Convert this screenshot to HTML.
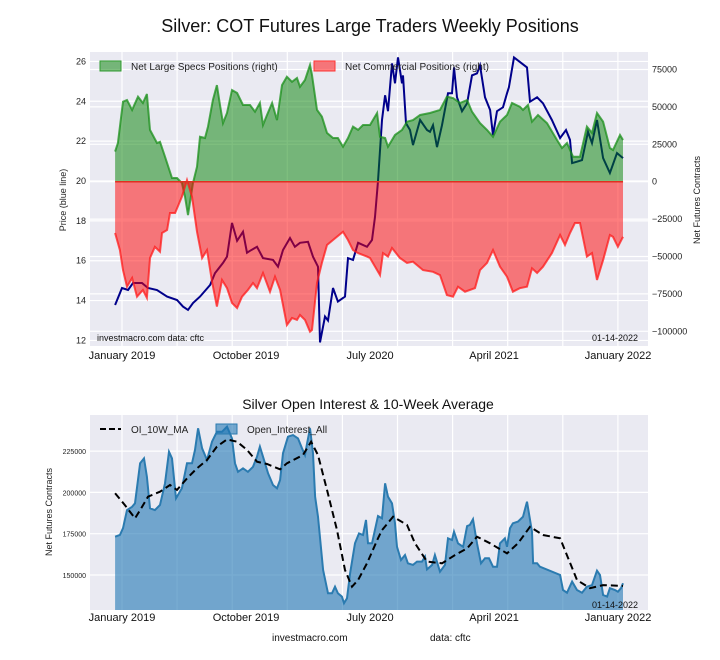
<!DOCTYPE html>
<html><head><meta charset="utf-8"><style>
body{margin:0;background:#fff;}
svg{display:block;font-family:"Liberation Sans",Arial,sans-serif;}
</style></head><body>
<svg id="s" width="720" height="660" viewBox="0 0 720 660" xmlns="http://www.w3.org/2000/svg">
<rect x="0" y="0" width="720" height="660" fill="#fff"/>
<text x="370" y="32" font-size="18" text-anchor="middle" fill="#111">Silver: COT Futures Large Traders Weekly Positions</text>
<rect x="90" y="52" width="558" height="294" fill="#eaeaf2"/>
<g id="g1grid"></g><g id="g1marks"></g><g id="g1ax"></g>
<text x="368" y="409" font-size="14" text-anchor="middle" fill="#111">Silver Open Interest &amp; 10-Week Average</text>
<rect x="90" y="415" width="558" height="195" fill="#eaeaf2"/>
<g id="g2grid"></g><g id="g2marks"></g><g id="g2ax"></g>
<text x="66" y="200" font-size="9" text-anchor="middle" transform="rotate(-90 66 200)" fill="#222">Price (blue line)</text>
<text x="700" y="200" font-size="9" text-anchor="middle" transform="rotate(-90 700 200)" fill="#222">Net Futures Contracts</text>
<text x="52" y="512" font-size="9" text-anchor="middle" transform="rotate(-90 52 512)" fill="#222">Net Futures Contracts</text>
<text x="97" y="341" font-size="9" fill="#111">investmacro.com   data: cftc</text>
<text x="592" y="341" font-size="9" fill="#111">01-14-2022</text>
<text x="592" y="608" font-size="9" fill="#111">01-14-2022</text>
<text x="272" y="641" font-size="10" fill="#111">investmacro.com</text>
<text x="430" y="641" font-size="10" fill="#111">data: cftc</text>
<g>
<rect x="100" y="61" width="21" height="10" fill="rgba(0,128,0,0.5)" stroke="#2e9a2e"/>
<text x="131" y="70" font-size="10" fill="#222">Net Large Specs Positions (right)</text>
<rect x="314" y="61" width="21" height="10" fill="rgba(255,0,0,0.5)" stroke="#ff3333"/>
<text x="345" y="70" font-size="10" fill="#222">Net Commercial Positions (right)</text>
</g>
<g>
<line x1="100" y1="429" x2="121" y2="429" stroke="#000" stroke-width="2" stroke-dasharray="6,3"/>
<text x="131" y="433" font-size="10" fill="#222">OI_10W_MA</text>
<rect x="216" y="424" width="21" height="10" fill="rgba(31,119,180,0.6)" stroke="#2b7bb0"/>
<text x="247" y="433" font-size="10" fill="#222">Open_Interest_All</text>
</g>
</svg>
<script>
// months since Jan 2019
var specM = [-0.5,-0.3,0.07,0.36,0.73,1.16,1.52,1.81,2.03,2.54,2.76,3.12,3.63,3.99,4.35,4.57,4.79,5.15,5.44,5.66,6.02,6.24,6.6,6.89,7.11,7.33,7.62,7.98,8.35,8.78,9.29,9.65,10.01,10.23,10.52,10.89,11.25,11.61,11.97,12.34,12.7,12.92,13.28,13.64,13.79,14.15,14.51,14.88,15.31,15.67,16.04,16.4,16.76,17.13,17.49,18.0,18.51,18.72,19.09,19.3,19.81,20.32,20.68,21.12,21.63,22.35,23.08,23.58,24.02,24.53,25.04,25.4,25.98,26.49,26.92,27.43,27.94,28.3,28.88,29.1,29.46,29.75,30.19,30.84,31.57,31.93,32.29,32.73,33.24,33.74,34.11,34.47,34.91,35.41,35.63,36.14,36.36];
var specV = [20.1,25.9,53.5,54.6,48,56.8,52.6,58.6,34.6,25.9,26.7,16.7,2.5,2.5,-0.9,-10,-22.3,-0.9,10,30,29.2,36.8,54.6,64.6,51.3,39.2,45.9,61.3,59.3,51.3,51.3,46.8,52.6,37.9,44.6,52.6,41.2,64.6,70.2,66.8,69.3,63.5,68,78,71.3,48,43.5,32.6,29.2,29.2,23.4,29.2,36.8,34.6,37.9,37.9,45.9,30,29.2,23.4,31.2,34.6,40.1,41.2,44.6,45.9,48,56.8,55.9,52.6,54.6,46.8,39.2,34.6,30,40.1,44.6,52.6,50.1,48,51.3,40.1,44.6,39.2,27.9,22.5,25.9,16.7,16.7,36.8,32.6,45.9,40.1,22.5,21.2,31.2,27.9];
var commM = [-0.5,-0.15,0.07,0.36,0.73,1.09,1.52,1.81,2.03,2.39,2.76,2.9,3.27,3.48,3.85,4.35,4.72,5.08,5.44,5.81,6.17,6.53,6.89,7.26,7.62,7.98,8.35,8.71,9.14,9.51,9.8,10.23,10.74,11.1,11.47,11.97,12.34,12.7,12.92,13.28,13.64,13.79,14.15,14.51,14.88,15.31,16.04,16.4,16.76,17.13,17.78,18.0,18.51,18.72,18.94,19.3,19.59,20.17,20.68,21.12,21.84,22.57,23.08,23.58,24.02,24.38,24.89,25.62,25.98,26.49,26.92,27.43,27.94,28.37,28.88,29.39,29.75,30.12,30.55,31.2,31.79,32.15,32.51,32.87,33.24,33.74,34.11,34.47,34.91,35.41,35.63,35.99,36.36];
var commV = [-34.3,-45.7,-59.1,-70.2,-64.4,-76.9,-72.4,-77.7,-51,-43.5,-46.8,-34.3,-32.3,-20.9,-20.9,-10,1.1,-10,-33.4,-51,-45.7,-66.8,-83.5,-65.7,-71.1,-81.1,-84.4,-76.9,-72.4,-67.7,-71.1,-61,-73.5,-63.5,-72.4,-95.8,-91.1,-92.4,-89.1,-92.4,-100.3,-99.1,-67.7,-54.3,-42.3,-39,-33.4,-39,-45.7,-47.7,-50.1,-51,-59.1,-62.4,-47.7,-50.1,-44.3,-51,-54.3,-53.5,-59.1,-60.2,-62.4,-75.8,-76.9,-70.2,-73.5,-71.1,-59.1,-54.3,-45.7,-56.8,-63.5,-73.5,-71.1,-70.2,-57.9,-61,-56.8,-47.7,-35.6,-42.3,-34.3,-27.6,-27.6,-50.1,-47.7,-65.7,-52.4,-35.6,-36.8,-43.5,-36.8];
var priceM = [-0.5,0,0.44,0.8,1.45,1.89,2.54,3.27,3.99,4.43,4.79,5.15,5.66,6.39,6.75,7.33,7.62,7.98,8.35,8.78,9.07,9.29,9.8,10.23,10.96,11.32,11.68,12.19,12.55,12.92,13.5,13.86,14.22,14.37,14.73,14.95,15.31,15.67,16.18,16.4,16.76,17.13,17.78,18.14,18.36,18.58,18.87,19.09,19.3,19.59,19.81,20.03,20.32,20.39,20.61,20.9,21.12,21.63,22.13,22.35,22.57,22.86,23.22,23.66,23.95,24.09,24.31,24.67,25.04,25.4,25.76,25.98,26.34,26.71,26.92,27.21,27.65,27.94,28.08,28.45,29.39,29.61,30.12,30.55,31.2,31.79,32.22,32.51,32.66,33.02,33.38,33.82,34.11,34.47,34.91,35.41,35.92,36.36];
var priceV = [13.78,14.63,14.53,14.88,14.88,14.63,14.53,14.2,14.03,13.7,13.53,13.88,14.2,14.78,15.38,15.89,16.2,17.9,17.0,17.45,16.4,16.5,16.7,16.13,16.04,15.7,16.54,17.14,16.7,16.9,16.95,16.2,15.7,11.9,13.2,13.0,14.63,13.95,14.2,16.13,16.04,16.9,16.7,17.04,18.2,20,23.06,24.3,23.5,25.9,24.9,26.2,24.9,25.3,22.9,22.56,21.8,23.06,22.56,22.47,22.8,21.7,22.8,24.4,24.4,25.7,24.2,23.5,23.9,25.3,25.4,25.8,24.2,23.56,22.3,23.5,23.7,24.4,24.7,26.2,25.7,23.98,24.2,23.9,23.06,22.16,22.56,22.06,20.9,20.97,21.05,22.47,21.9,23.06,21.15,20.4,21.4,21.15];
var oiM = [-0.5,-0.15,0.07,0.36,0.73,0.94,1.31,1.6,1.81,2.03,2.39,2.76,3.12,3.41,3.63,3.92,4.35,4.72,5.08,5.3,5.52,5.81,6.17,6.53,6.89,7.26,7.62,7.98,8.2,8.42,8.78,9.14,9.51,9.8,10.01,10.23,10.6,10.96,11.25,11.47,11.68,12.05,12.41,12.77,13.06,13.28,13.43,13.64,13.86,14.01,14.22,14.59,14.95,15.24,15.46,15.67,15.96,16.11,16.33,16.55,16.91,17.2,17.49,17.71,17.85,18.14,18.58,18.87,19.09,19.3,19.59,19.81,19.96,20.25,20.54,20.75,21.12,21.41,21.77,21.99,22.13,22.5,22.71,23.08,23.44,23.66,23.95,24.09,24.38,24.75,25.04,25.25,25.47,25.76,26.05,26.34,26.63,26.92,27.21,27.43,27.79,27.94,28.16,28.37,28.74,29.1,29.39,29.75,29.83,30.12,30.33,31.79,32.0,32.29,32.66,33.02,33.38,33.74,34.11,34.47,34.69,34.91,35.2,35.41,35.78,35.99,36.21,36.36];
var oiV = [173.2,174.2,178.3,189.3,191.3,193.4,217.6,220.6,209.5,190.4,189.3,192.4,205.5,224.6,220.6,196.4,202.5,217.6,217.6,225.7,238.8,226.7,219.6,230.7,236.7,236.7,239.8,232.7,217.6,212.5,214.6,212.5,215.5,221.6,227.7,221.6,211.5,204.5,202.5,207.5,223.7,233.7,234.7,232.7,226.7,222.6,229.7,238.8,223.7,197.4,185.3,153,138.9,138.9,142.9,138.9,136.9,132.9,135.9,151,169.2,175.2,174.2,183.3,169.2,169.2,185.7,184.3,205.5,197.4,193.4,181.3,167.1,159.1,162.1,157.1,156.1,158.1,158.1,161.1,153.4,156.1,162.1,152,156.1,172.2,171.2,176.2,169.2,167.1,179.6,180.3,183.7,169.2,157.1,160.1,160.1,155,155,169.2,172.2,167.1,178.3,181.3,182.3,185.3,194.4,176.2,157.1,157.1,155,150,140.9,139.3,146,140.9,139.3,142.9,143.9,152.6,150,137.9,136.9,142,140.9,139.9,142,145];
var maM = [-0.5,0.2,0.94,1.31,1.89,2.76,3.48,3.99,4.72,5.44,6.17,6.89,7.62,8.35,9.07,9.8,10.52,11.47,11.97,13.13,13.72,14.22,14.88,15.6,16.18,16.69,17.13,17.78,18.58,18.87,19.67,20.68,21.26,22.13,23.22,24.17,25.04,25.76,26.71,27.94,28.74,29.61,30.55,31.79,33.02,33.96,34.91,36.36];
var maV = [199.5,192.4,184.3,189.3,197.4,200.4,204.5,201.5,208.5,214.6,219.6,227.7,232.1,230.7,225.7,218.6,217.2,214,217.6,222.6,230.7,222.6,201.5,177.2,153,142.9,147,157.1,172.2,177.2,185.3,180.3,169.2,158.1,157.1,162.1,166.1,173.2,169.2,163.1,169.2,179.2,174.2,172.2,147,142,143.9,143.4];
var xTickM = [0,9,18,27,36];
var xTickLabels = ["January 2019","October 2019","July 2020","April 2021","January 2022"];
var priceTicks = [12,14,16,18,20,22,24,26];
var netTicks = [75000,50000,25000,0,-25000,-50000,-75000,-100000];
var oiTicks = [150000,175000,200000,225000];

var NS="http://www.w3.org/2000/svg";
function xS(m){return 122+m*13.78;}
function yP(p){return 181+(20-p)*19.93;}
function yN(v){return 181.7-v/25000*37.4;}
function yO(v){return 575-(v-150000)/25000*41.3;}
function mk(tag,attrs,parent){var e=document.createElementNS(NS,tag);for(var k in attrs)e.setAttribute(k,attrs[k]);document.getElementById(parent).appendChild(e);return e;}
function pts(M,V,fy,scale){var s=[];for(var i=0;i<M.length;i++)s.push(xS(M[i]).toFixed(1)+","+fy(V[i]*scale).toFixed(1));return s;}

// grids
var g1v=[], g;
for(var k=0;k<10;k++){
  g=mk('line',{x1:122+k*55.1,x2:122+k*55.1,y1:52,y2:346,stroke:'#fff','stroke-width':1.2},'g1grid');
  
  g=mk('line',{x1:122+k*55.1,x2:122+k*55.1,y1:415,y2:610,stroke:'#fff','stroke-width':1.2},'g2grid');
  
}
priceTicks.forEach(function(p){
  var y=yP(p);
  var l=mk('line',{x1:90,x2:648,y1:y,y2:y,stroke:'#fff','stroke-width':1.2},'g1grid');
  
  var t=mk('text',{x:86,y:y+3,'font-size':9,'text-anchor':'end',fill:'#222'},'g1ax');
  t.textContent=p;
});
netTicks.forEach(function(v){
  var y=yN(v);
  var l=mk('line',{x1:90,x2:648,y1:y,y2:y,stroke:'#fff','stroke-width':1.2},'g1grid');
  
  var t=mk('text',{x:652,y:y+3,'font-size':9,fill:'#222'},'g1ax');
  t.textContent=(v<0?'\u2212'+(-v):v);
});
oiTicks.forEach(function(v){
  var y=yO(v);
  var l=mk('line',{x1:90,x2:648,y1:y,y2:y,stroke:'#fff','stroke-width':1.2},'g2grid');
  
  var t=mk('text',{x:86,y:y+3,'font-size':7,'text-anchor':'end',fill:'#222'},'g2ax');
  t.textContent=v;
});
xTickM.forEach(function(m,i){
  var t=mk('text',{x:xS(m),y:359,'font-size':11,'text-anchor':'middle',fill:'#111'},'g1ax');
  t.textContent=xTickLabels[i];
  t=mk('text',{x:xS(m),y:621,'font-size':11,'text-anchor':'middle',fill:'#111'},'g2ax');
  t.textContent=xTickLabels[i];
});

// top chart marks: price line under fills
var pl=mk('polyline',{points:pts(priceM,priceV,yP,1).join(' '),fill:'none',stroke:'#00008b','stroke-width':2},'g1marks');

function area(M,V,fill,stroke,name){
  var p=pts(M,V,yN,1000);
  var z=yN(0);
  var d='M'+xS(M[0]).toFixed(1)+','+z+' L'+p.join(' L')+' L'+xS(M[M.length-1]).toFixed(1)+','+z+' Z';
  var a=mk('path',{d:d,fill:fill,stroke:'none'},'g1marks');
  
  var l=mk('polyline',{points:p.join(' '),fill:'none',stroke:stroke,'stroke-width':2,'stroke-opacity':0.75},'g1marks');
  
}
area(specM,specV,'rgba(0,128,0,0.5)','#1a8f1a','specs');
area(commM,commV,'rgba(255,0,0,0.5)','#ff1a1a','commercial');
var zl=mk('line',{x1:xS(specM[0]),x2:xS(specM[specM.length-1]),y1:yN(0),y2:yN(0),stroke:'#e03020','stroke-width':1.5},'g1marks');


// bottom chart
var op=pts(oiM,oiV,yO,1000);
var od='M'+xS(oiM[0]).toFixed(1)+',610 L'+op.join(' L')+' L'+xS(oiM[oiM.length-1]).toFixed(1)+',610 Z';
var oa=mk('path',{d:od,fill:'rgba(31,119,180,0.6)',stroke:'none'},'g2marks');

var ol=mk('polyline',{points:op.join(' '),fill:'none',stroke:'#2b7bb0','stroke-width':2},'g2marks');

var ml=mk('polyline',{points:pts(maM,maV,yO,1000).join(' '),fill:'none',stroke:'#000','stroke-width':2,'stroke-dasharray':'7,4'},'g2marks');

</script>
</body></html>
